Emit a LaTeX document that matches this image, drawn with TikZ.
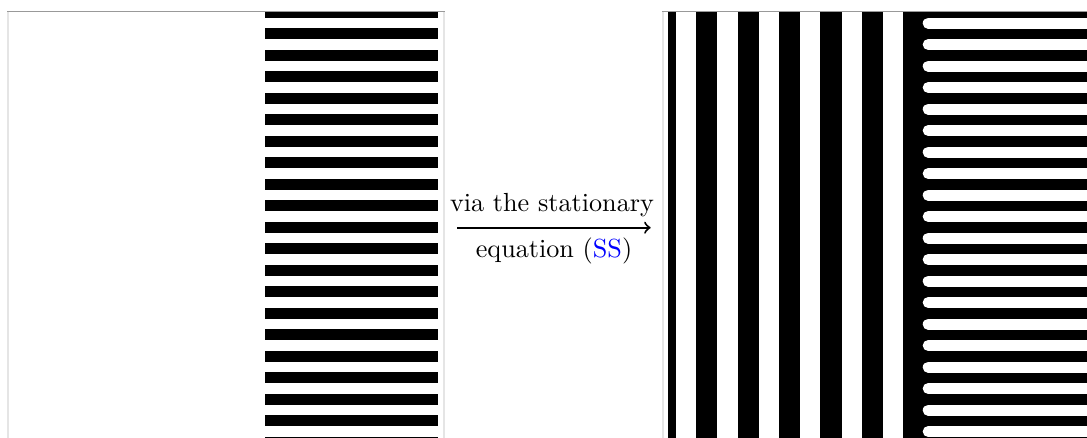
\documentclass[tikz,border=0pt]{standalone}
\usepackage{xcolor}
\begin{document}
\begin{tikzpicture}[x=0.382pt,y=-0.382pt,
  sideline/.style={draw=black!10, line width=0.76pt},
  topline/.style={draw=black!40, line width=0.6pt},
  blk/.style={fill=black},
  finger/.style={draw=white, line width=4.2pt, line cap=round},
  arr/.style={->, line width=0.75pt},
  lbl/.style={anchor=base, inner sep=0pt}]
\useasboundingbox (0,0) rectangle (1087,438);
% frames
\draw[sideline] (7.8,12) -- (7.8,438);
\draw[sideline] (443.8,12) -- (443.8,438);
\draw[sideline] (663,12) -- (663,438);
\begin{scope}
\clip (0,12) rectangle (1087,438);
% left panel: horizontal stripes
\foreach \k in {0,...,20}
  \fill[blk] (265,{12.3+21.5*\k-5.5}) rectangle (437.7,{12.3+21.5*\k+5.5});
% right panel: vertical stripes
\fill[blk] (668.3,12) rectangle (675.7,438);
\foreach \a in {696,737.5,779,820.4,861.8}
  \fill[blk] (\a,12) rectangle ({\a+21.2},438);
\fill[blk] (903.3,12) rectangle (1087,438);
\foreach \k in {0,...,19}
  \draw[finger] (928.2,{23.05+21.5*\k}) -- (1100,{23.05+21.5*\k});
\end{scope}
\draw[topline] (7,11.6) -- (445,11.6);
\draw[topline] (662,11.6) -- (1087,11.6);
% arrow with labels
\coordinate (a) at (457.3,227.7);
\coordinate (b) at (650.7,227.7);
\draw[arr] (a) -- (b);
\node[lbl] (upper) at (552,211.7) {via the stationary};
\node[lbl] (lower) at (554,257.3) {equation (\textcolor{blue}{SS})};
\end{tikzpicture}
\end{document}
